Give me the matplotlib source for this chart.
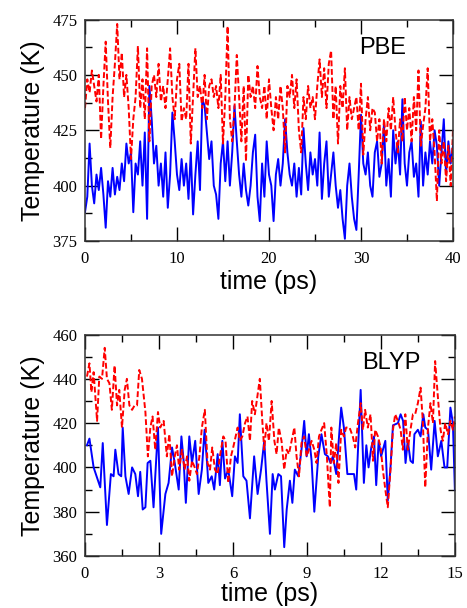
import numpy as np
import matplotlib
matplotlib.use("Agg")
import matplotlib.pyplot as plt
from matplotlib.ticker import MultipleLocator

pbe_dt = 0.25
pbe_blue = [388, 395, 419, 400, 392, 405, 398, 408, 396, 381, 402, 395, 408, 396, 404, 398,
            410, 402, 419, 410, 415, 388, 410, 405, 420, 400, 424, 385, 445, 430, 410, 418,
            400, 410, 395, 415, 390, 405, 433, 420, 405, 398, 412, 400, 410, 394, 415, 387,
            405, 420, 398, 439, 436, 424, 412, 420, 400, 396, 385, 410, 420, 402, 420, 400,
            415, 436, 420, 405, 395, 410, 398, 391, 400, 415, 423, 395, 384, 410, 395, 420,
            405, 400, 384, 405, 412, 400, 410, 430, 415, 405, 400, 410, 395, 408, 396, 426,
            410, 398, 415, 405, 412, 400, 424, 394, 410, 420, 395, 405, 415, 400, 390, 398,
            385, 376, 400, 410, 395, 385, 380, 405, 432, 410, 405, 415, 400, 395, 415, 420,
            404, 410, 428, 400, 412, 395, 425, 410, 420, 405, 439, 410, 400, 415, 420, 404,
            410, 395, 429, 400, 415, 405, 420, 410, 425, 418, 400, 415, 430, 405, 420, 410,
            418]
pbe_red = [435, 448, 442, 452, 445, 438, 450, 421, 445, 465, 438, 417, 440, 455, 473, 448,
           460, 440, 450, 435, 412, 430, 440, 463, 435, 448, 430, 462, 420, 445, 450, 440,
           455, 438, 445, 435, 448, 462, 440, 430, 448, 455, 429, 435, 430, 455, 419, 440,
           462, 440, 445, 435, 450, 430, 445, 448, 440, 445, 435, 450, 419, 440, 472, 430,
           420, 435, 459, 440, 420, 445, 411, 450, 440, 445, 435, 454, 440, 435, 445, 430,
           448, 435, 425, 440, 430, 445, 435, 415, 445, 440, 450, 435, 448, 425, 415, 440,
           430, 445, 435, 440, 430, 445, 457, 440, 453, 435, 455, 461, 430, 445, 419, 445,
           435, 453, 425, 440, 430, 435, 440, 425, 446, 414, 430, 440, 425, 435, 433, 420,
           430, 410, 430, 420, 435, 425, 440, 425, 415, 430, 420, 440, 425, 435, 420, 440,
           425, 452, 418, 427, 435, 453, 420, 430, 415, 393, 425, 410, 420, 402, 418, 400,
           425]
pbe_time_blue = np.arange(len(pbe_blue)) * pbe_dt
pbe_time_red = np.arange(len(pbe_red)) * pbe_dt

# BLYP run: (time ps, temperature K)
blyp_blue_pts = [
    (0.08, 410), (0.18, 413), (0.35, 400), (0.62, 391), (0.72, 411), (0.89, 374), (1.05, 397),
    (1.16, 396), (1.23, 408), (1.36, 397), (1.47, 396), (1.53, 418), (1.64, 396), (1.77, 388),
    (1.91, 400), (2.04, 397), (2.15, 387), (2.24, 398), (2.34, 381), (2.45, 382), (2.54, 402),
    (2.65, 403), (2.78, 382), (2.96, 418), (3.09, 370), (3.26, 388), (3.39, 393), (3.53, 409),
    (3.64, 402), (3.80, 390), (3.91, 414), (4.00, 403), (4.09, 384), (4.23, 414), (4.34, 402),
    (4.47, 412), (4.61, 388), (4.74, 399), (4.85, 417), (4.95, 402), (5.00, 393), (5.14, 396),
    (5.24, 390), (5.38, 406), (5.47, 392), (5.57, 412), (5.68, 395), (5.81, 399), (5.97, 387),
    (6.08, 405), (6.19, 402), (6.28, 424), (6.42, 396), (6.55, 394), (6.69, 377), (6.86, 405),
    (7.00, 388), (7.14, 399), (7.27, 412), (7.36, 394), (7.50, 370), (7.61, 397), (7.70, 390),
    (7.84, 397), (7.95, 396), (8.08, 364), (8.18, 381), (8.31, 394), (8.41, 384), (8.51, 399),
    (8.65, 396), (8.78, 408), (8.89, 421), (8.99, 405), (9.08, 415), (9.19, 403), (9.30, 380),
    (9.46, 405), (9.59, 415), (9.73, 406), (9.85, 405), (9.96, 402), (10.05, 405), (10.19, 397),
    (10.39, 427), (10.50, 418), (10.64, 397), (10.77, 397), (10.91, 397), (11.00, 390),
    (11.18, 435), (11.31, 393), (11.41, 410), (11.50, 400), (11.61, 409), (11.72, 414),
    (11.81, 392), (11.91, 412), (12.01, 405), (12.18, 412), (12.28, 385), (12.39, 400),
    (12.49, 419), (12.69, 420), (12.80, 424), (12.90, 421), (13.00, 402), (13.09, 412),
    (13.20, 403), (13.30, 402), (13.36, 415), (13.50, 417), (13.61, 414), (13.72, 424),
    (13.80, 418), (13.91, 417), (14.04, 399), (14.18, 421), (14.31, 405), (14.45, 412),
    (14.58, 400), (14.69, 400), (14.82, 427), (14.92, 420), (15.00, 390)]
blyp_red_pts = [
    (0.08, 441), (0.18, 447), (0.26, 434), (0.35, 443), (0.42, 432), (0.49, 421), (0.58, 441),
    (0.69, 440), (0.80, 454), (0.89, 440), (0.99, 438), (1.09, 426), (1.20, 446), (1.30, 428),
    (1.39, 435), (1.50, 418), (1.61, 435), (1.70, 440), (1.80, 428), (1.91, 426), (2.01, 428),
    (2.11, 428), (2.20, 444), (2.31, 440), (2.45, 425), (2.55, 405), (2.65, 418), (2.74, 423),
    (2.85, 408), (2.96, 425), (3.05, 418), (3.19, 421), (3.32, 405), (3.42, 415), (3.53, 396),
    (3.64, 405), (3.73, 410), (3.82, 399), (3.93, 408), (4.04, 399), (4.14, 405), (4.23, 394),
    (4.34, 403), (4.45, 400), (4.54, 397), (4.64, 405), (4.74, 418), (4.86, 426), (4.97, 402),
    (5.07, 399), (5.16, 409), (5.27, 399), (5.38, 397), (5.47, 405), (5.61, 414), (5.70, 412),
    (5.81, 393), (5.92, 405), (6.01, 409), (6.11, 414), (6.19, 418), (6.28, 412), (6.38, 414),
    (6.49, 420), (6.59, 423), (6.69, 412), (6.78, 430), (6.89, 424), (6.99, 432), (7.09, 440),
    (7.19, 421), (7.27, 408), (7.36, 420), (7.46, 412), (7.57, 430), (7.68, 412), (7.77, 406),
    (7.86, 418), (7.97, 412), (8.08, 399), (8.18, 408), (8.27, 406), (8.38, 412), (8.49, 418),
    (8.58, 405), (8.68, 396), (8.78, 411), (8.89, 414), (8.99, 405), (9.08, 408), (9.19, 412),
    (9.30, 408), (9.39, 402), (9.49, 414), (9.59, 417), (9.70, 420), (9.81, 405), (9.88, 391),
    (9.93, 382), (9.99, 418), (10.09, 402), (10.19, 411), (10.28, 393), (10.39, 417),
    (10.50, 414), (10.59, 418), (10.73, 418), (10.86, 414), (10.96, 409), (11.07, 420),
    (11.18, 429), (11.27, 417), (11.36, 426), (11.47, 418), (11.58, 424), (11.68, 403),
    (11.77, 417), (11.88, 414), (11.99, 409), (12.08, 399), (12.18, 390), (12.28, 382),
    (12.39, 399), (12.49, 417), (12.58, 424), (12.69, 421), (12.80, 417), (12.89, 408),
    (12.99, 424), (13.09, 408), (13.20, 417), (13.30, 424), (13.39, 424), (13.50, 429),
    (13.61, 436), (13.70, 421), (13.80, 391), (13.91, 418), (14.01, 429), (14.11, 420),
    (14.20, 448), (14.31, 432), (14.42, 417), (14.51, 412), (14.61, 420), (14.72, 415),
    (14.82, 421), (14.92, 417), (15.00, 423)]
blyp_t_blue, blyp_blue = np.array(blyp_blue_pts).T
blyp_t_red, blyp_red = np.array(blyp_red_pts).T

SERIF = "Liberation Serif"
SANS = "Liberation Sans"

fig = plt.figure(figsize=(4.67, 6.08), dpi=100)
ax1 = fig.add_axes([0.182, 0.6036, 0.788, 0.3643])
ax2 = fig.add_axes([0.182, 0.0855, 0.792, 0.3643])

dash = (0, (3.0, 1.4))


def style(ax, xmaj, xmin, ymaj, ymin, xpad, xlpad):
    ax.xaxis.set_major_locator(MultipleLocator(xmaj))
    ax.xaxis.set_minor_locator(MultipleLocator(xmin))
    ax.yaxis.set_major_locator(MultipleLocator(ymaj))
    ax.yaxis.set_minor_locator(MultipleLocator(ymin))
    ax.tick_params(which="both", direction="in", top=True, right=True, width=1.0)
    ax.tick_params(which="major", length=10)
    ax.tick_params(which="minor", length=5)
    ax.tick_params(axis="x", which="major", pad=xpad)
    ax.tick_params(axis="y", which="major", pad=5.5)
    for lab in ax.get_xticklabels() + ax.get_yticklabels():
        lab.set_fontfamily(SERIF)
        lab.set_fontsize(12)
    for s in ax.spines.values():
        s.set_linewidth(1.1)
        s.set_color("#333333")
    ax.set_ylabel("Temperature (K)", fontsize=18, fontfamily=SANS, labelpad=5)
    ax.set_xlabel("time (ps)", fontsize=18, fontfamily=SANS, labelpad=xlpad)


ax1.plot(pbe_time_blue, pbe_blue, color="#0000ff", lw=1.4)
ax1.plot(pbe_time_red, pbe_red, color="#ff0000", lw=1.4, ls=dash)
ax1.set_xlim(0, 40)
ax1.set_ylim(375, 475)
style(ax1, 10, 5, 25, 12.5, 7, 2)
ax1.text(0.81, 0.871, "PBE", transform=ax1.transAxes, fontsize=17, fontfamily=SANS,
         ha="center", va="center")

ax2.plot(blyp_t_blue, blyp_blue, color="#0000ff", lw=1.4)
ax2.plot(blyp_t_red, blyp_red, color="#ff0000", lw=1.4, ls=dash)
ax2.set_xlim(0, 15)
ax2.set_ylim(360, 460)
style(ax2, 3, 1.5, 20, 10, 7.5, 0)
ax2.text(0.827, 0.871, "BLYP", transform=ax2.transAxes, fontsize=17, fontfamily=SANS,
         ha="center", va="center")

fig.savefig("out.png", dpi=100)
